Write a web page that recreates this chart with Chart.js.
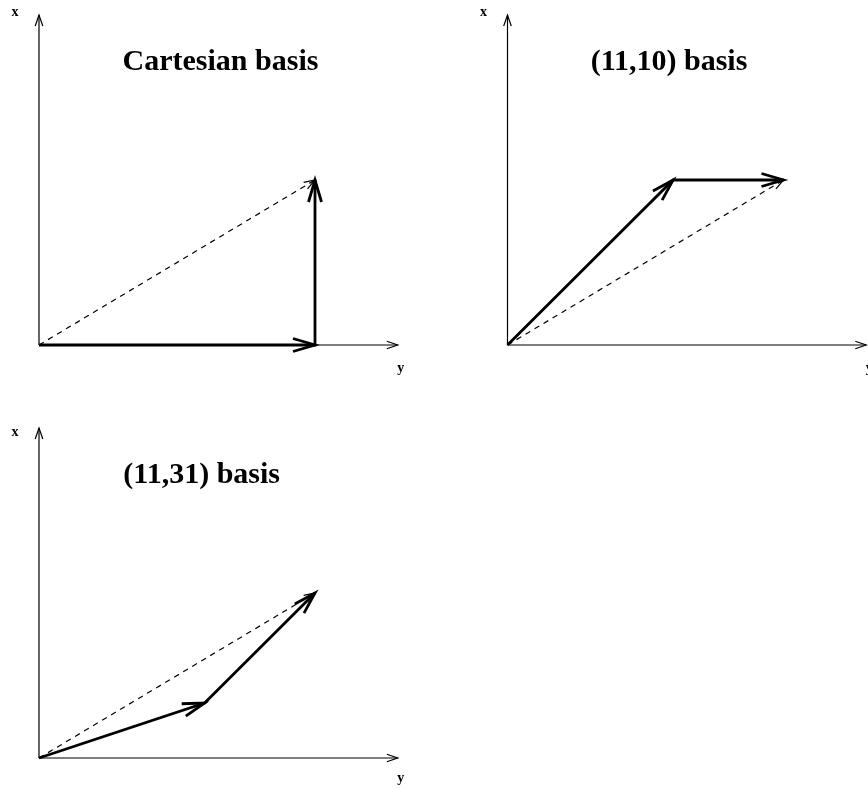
<!DOCTYPE html>
<html>
<head>
<meta charset="utf-8">
<script src="https://cdn.jsdelivr.net/npm/chart.js@4.4.1/dist/chart.umd.min.js"></script>
<style>
  html, body { margin: 0; padding: 0; background: #fff; }
  body { width: 868px; height: 789px; position: relative; overflow: hidden; }
  .panel { position: absolute; }
</style>
</head>
<body>
<div class="panel" style="left:0;top:0"><canvas id="p1" width="434" height="394"></canvas></div>
<div class="panel" style="left:434px;top:0"><canvas id="p2" width="434" height="394"></canvas></div>
<div class="panel" style="left:0;top:394px"><canvas id="p3" width="434" height="395"></canvas></div>
<script>
// axis extents, in basis units
const horizontalAxisMax = 6.5
const verticalAxisMax = 6
const axisNames = ['x', 'y'] // vertical, horizontal

const panelTitles = ['Cartesian basis', '(11,10) basis', '(11,31) basis']

// vector paths as [horizontal, vertical] steps
const cartesianPath = [[0, 0], [5, 0], [5, 3]]
const basis1110Path = [[0, 0], [3, 3], [5, 3]]
const basis1131Path = [[0, 0], [3, 1], [5, 3]]
const targetVector = [[0, 0], [5, 3]]

const paths = [cartesianPath, basis1110Path, basis1131Path]

const FONT = '"Liberation Serif", "Times New Roman", serif'

function toPoints(path) {
  return path.map(([h, v]) => ({ x: h, y: v }))
}

function arrowHead(ctx, from, to, len, half, width) {
  const ang = Math.atan2(to.y - from.y, to.x - from.x)
  const c = Math.cos(ang), s = Math.sin(ang)
  ctx.save()
  ctx.strokeStyle = '#000'
  ctx.lineWidth = width
  ctx.lineJoin = 'miter'
  ctx.lineCap = 'butt'
  ctx.beginPath()
  ctx.moveTo(to.x - len * c - half * s, to.y - len * s + half * c)
  ctx.lineTo(to.x, to.y)
  ctx.lineTo(to.x - len * c + half * s, to.y - len * s - half * c)
  ctx.stroke()
  ctx.restore()
}

const vectorDecor = {
  id: 'vectorDecor',
  beforeDatasetsDraw(chart) {
    const { ctx, scales } = chart
    const ox = scales.x.getPixelForValue(0)
    const oy = scales.y.getPixelForValue(0)
    const ex = scales.x.getPixelForValue(horizontalAxisMax)
    const ey = scales.y.getPixelForValue(verticalAxisMax)
    ctx.save()
    ctx.strokeStyle = '#000'
    ctx.lineWidth = 1.2
    ctx.beginPath()
    ctx.moveTo(ox, oy); ctx.lineTo(ex, oy)
    ctx.moveTo(ox, oy); ctx.lineTo(ox, ey)
    ctx.stroke()
    ctx.restore()
    arrowHead(ctx, { x: ox, y: oy }, { x: ex, y: oy }, 11, 3.8, 1.2)
    arrowHead(ctx, { x: ox, y: oy }, { x: ox, y: ey }, 11, 3.8, 1.2)
  },
  afterDatasetsDraw(chart, args, opts) {
    const { ctx, chartArea, scales } = chart
    chart.data.datasets.forEach((ds, i) => {
      const pts = chart.getDatasetMeta(i).data
      for (let k = 1; k < pts.length; k++) {
        arrowHead(ctx, pts[k - 1], pts[k], ds.arrowLen, ds.arrowHalf, ds.arrowWidth)
      }
    })
    const ox = scales.x.getPixelForValue(0)
    const oy = scales.y.getPixelForValue(0)
    ctx.save()
    ctx.fillStyle = '#000'
    ctx.textAlign = 'center'
    ctx.textBaseline = 'alphabetic'
    ctx.font = 'bold 30px ' + FONT
    ctx.fillText(opts.title, ox + opts.titleDx, chartArea.top + 55)
    ctx.font = 'bold 14px ' + FONT
    ctx.fillText(axisNames[0], ox - 24, chartArea.top + opts.xLabelDy)
    ctx.fillText(axisNames[1], chartArea.right + 3, oy + opts.yLabelDy)
    ctx.restore()
  },
}

const layouts = [
  { id: 'p1', padding: { left: 39, top: 15, right: 36.2, bottom: 49 }, titleDx: 181.5, xLabelDy: 0.5, yLabelDy: 27 },
  { id: 'p2', padding: { left: 73.5, top: 15, right: 1.7, bottom: 49 }, titleDx: 161.5, xLabelDy: 0.5, yLabelDy: 27 },
  { id: 'p3', padding: { left: 39, top: 34, right: 36.2, bottom: 31 }, titleDx: 162.7, xLabelDy: 7.5, yLabelDy: 24 },
]

layouts.forEach((lay, i) => {
  new Chart(document.getElementById(lay.id), {
    type: 'scatter',
    data: {
      datasets: [
        {
          data: toPoints(paths[i]),
          showLine: true,
          borderColor: '#000',
          borderWidth: 2.8,
          borderJoinStyle: 'miter',
          pointRadius: 0,
          clip: false,
          arrowLen: 22,
          arrowHalf: 6.5,
          arrowWidth: 2.8,
        },
        {
          data: toPoints(targetVector),
          showLine: true,
          borderColor: '#000',
          borderWidth: 1.2,
          borderDash: [5.5, 5],
          pointRadius: 0,
          clip: false,
          arrowLen: 11,
          arrowHalf: 3.8,
          arrowWidth: 1.2,
        },
      ],
    },
    options: {
      responsive: false,
      animation: false,
      events: [],
      layout: { padding: lay.padding },
      scales: {
        x: { type: 'linear', min: 0, max: horizontalAxisMax, display: false },
        y: { type: 'linear', min: 0, max: verticalAxisMax, display: false },
      },
      plugins: {
        legend: { display: false },
        tooltip: { enabled: false },
        vectorDecor: { title: panelTitles[i], titleDx: lay.titleDx, xLabelDy: lay.xLabelDy, yLabelDy: lay.yLabelDy },
      },
    },
    plugins: [vectorDecor],
  })
})
</script>
</body>
</html>
